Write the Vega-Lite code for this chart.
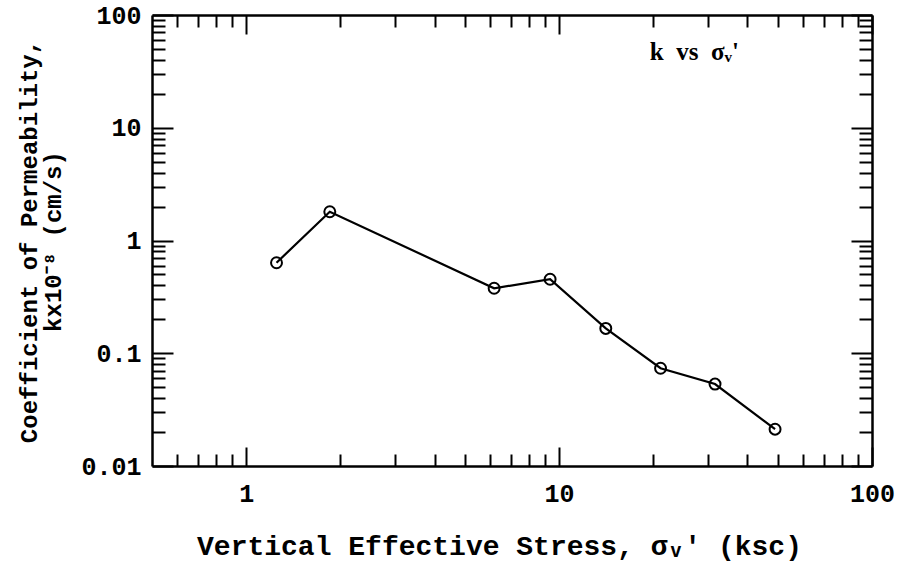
{
  "$schema": "https://vega.github.io/schema/vega-lite/v6.json",
  "width": 720,
  "height": 451,
  "autosize": "none",
  "padding": {"left": 152, "top": 15, "right": 27, "bottom": 100},
  "background": "white",
  "config": {
    "view": {"stroke": null},
    "axis": {
      "grid": false,
      "domainColor": "black",
      "domainWidth": 2.5,
      "tickColor": "black",
      "tickWidth": 2,
      "labelColor": "black",
      "labelFont": "Liberation Mono",
      "labelFontWeight": "bold",
      "labelFontSize": 25,
      "labelFlush": false,
      "labelOverlap": false,
      "titleColor": "black",
      "titleFont": "Liberation Mono",
      "titleFontWeight": "bold"
    }
  },
  "datasets": {
    "pts": [
      {"stress": 1.25, "k": 0.635},
      {"stress": 1.85, "k": 1.8},
      {"stress": 6.2, "k": 0.377},
      {"stress": 9.36, "k": 0.453},
      {"stress": 14.1, "k": 0.166},
      {"stress": 21.1, "k": 0.0736},
      {"stress": 31.5, "k": 0.0533},
      {"stress": 49.0, "k": 0.0212}
    ],
    "note": [
      {"stress": 19.5, "k": 47, "label": "k\u00a0\u00a0vs\u00a0\u00a0σᵥ'"}
    ]
  },
  "layer": [
    {
      "data": {"name": "pts"},
      "mark": {"type": "line", "color": "black", "strokeWidth": 2.2},
      "encoding": {
        "x": {
          "field": "stress", "type": "quantitative",
          "scale": {"type": "log", "domain": [0.5, 100], "nice": false},
          "axis": {
            "orient": "bottom",
            "values": [0.6, 0.7, 0.8, 0.9, 1, 2, 3, 4, 5, 6, 7, 8, 9, 10, 20, 30, 40, 50, 60, 70, 80, 90, 100],
            "tickSize": {"condition": {"test": "abs(log(datum.value)/LN10 - round(log(datum.value)/LN10)) < 0.000001", "value": -19}, "value": -12},
            "labelExpr": "abs(log(datum.value)/LN10 - round(log(datum.value)/LN10)) < 0.000001 ? format(datum.value, '~g') : ''",
            "labelPadding": 34,
            "title": "Vertical Effective Stress, σᵥ' (ksc)",
            "titleFontSize": 28,
            "titleX": 347,
            "titleY": 80,
            "titleAlign": "center",
            "titleBaseline": "middle"
          }
        },
        "y": {
          "field": "k", "type": "quantitative",
          "scale": {"type": "log", "domain": [0.01, 100], "nice": false},
          "axis": {
            "orient": "left",
            "values": [0.01, 0.02, 0.03, 0.04, 0.05, 0.06, 0.07, 0.08, 0.09, 0.1, 0.2, 0.3, 0.4, 0.5, 0.6, 0.7, 0.8, 0.9, 1, 2, 3, 4, 5, 6, 7, 8, 9, 10, 20, 30, 40, 50, 60, 70, 80, 90, 100],
            "tickSize": {"condition": {"test": "abs(log(datum.value)/LN10 - round(log(datum.value)/LN10)) < 0.000001", "value": -21}, "value": -13},
            "labelExpr": "abs(log(datum.value)/LN10 - round(log(datum.value)/LN10)) < 0.000001 ? format(datum.value, '~g') : ''",
            "labelPadding": 32,
            "title": ["Coefficient of Permeability,", "kx10⁻⁸ (cm/s)"],
            "titleFontSize": 24,
            "titleLineHeight": 24,
            "titleX": -123,
            "titleY": 226,
            "titleAngle": -90,
            "titleAlign": "center",
            "titleBaseline": "middle"
          }
        }
      }
    },
    {
      "data": {"name": "pts"},
      "mark": {"type": "point", "shape": "circle", "filled": false, "size": 120, "stroke": "black", "strokeWidth": 2, "opacity": 1},
      "encoding": {
        "x": {
          "field": "stress", "type": "quantitative",
          "scale": {"type": "log", "domain": [0.5, 100], "nice": false},
          "axis": {
            "orient": "top",
            "values": [0.6, 0.7, 0.8, 0.9, 1, 2, 3, 4, 5, 6, 7, 8, 9, 10, 20, 30, 40, 50, 60, 70, 80, 90, 100],
            "tickSize": {"condition": {"test": "abs(log(datum.value)/LN10 - round(log(datum.value)/LN10)) < 0.000001", "value": -19}, "value": -12},
            "labels": false,
            "title": null
          }
        },
        "y": {
          "field": "k", "type": "quantitative",
          "scale": {"type": "log", "domain": [0.01, 100], "nice": false},
          "axis": {
            "orient": "right",
            "values": [0.01, 0.02, 0.03, 0.04, 0.05, 0.06, 0.07, 0.08, 0.09, 0.1, 0.2, 0.3, 0.4, 0.5, 0.6, 0.7, 0.8, 0.9, 1, 2, 3, 4, 5, 6, 7, 8, 9, 10, 20, 30, 40, 50, 60, 70, 80, 90, 100],
            "tickSize": {"condition": {"test": "abs(log(datum.value)/LN10 - round(log(datum.value)/LN10)) < 0.000001", "value": -21}, "value": -13},
            "labels": false,
            "title": null
          }
        }
      }
    },
    {
      "data": {"name": "note"},
      "mark": {"type": "text", "align": "left", "baseline": "middle", "font": "Liberation Serif", "fontWeight": "bold", "fontSize": 25, "color": "black"},
      "encoding": {
        "x": {"field": "stress", "type": "quantitative", "scale": {"type": "log", "domain": [0.5, 100], "nice": false}, "axis": null},
        "y": {"field": "k", "type": "quantitative", "scale": {"type": "log", "domain": [0.01, 100], "nice": false}, "axis": null},
        "text": {"field": "label"}
      }
    }
  ],
  "resolve": {"axis": {"x": "independent", "y": "independent"}}
}
